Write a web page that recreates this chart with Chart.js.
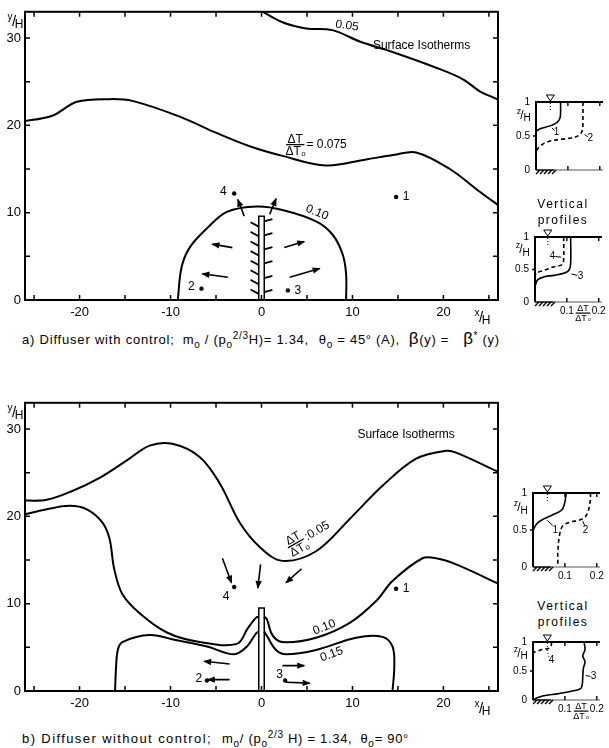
<!DOCTYPE html>
<html>
<head>
<meta charset="utf-8">
<script src="https://cdn.jsdelivr.net/npm/chart.js@4.4.1/dist/chart.umd.min.js"></script>
<style>
  body { margin: 0; background: #fff; width: 609px; height: 748px; position: relative; overflow: hidden;
         font-family: 'Liberation Sans', 'DejaVu Sans', sans-serif; color: #000; }
  canvas { position: absolute; }
  .cap { position: absolute; font-size: 13px; white-space: nowrap; line-height: 16px; }
  .cap > span { display: inline-block; letter-spacing: 0.8px; }
  .cap > span.f { letter-spacing: 0.7px; }
  .cap sub, .cap sup { font-size: 10px; line-height: 0; }
  .big { font-size: 17px; line-height: 0; }
  .vp { position: absolute; width: 90px; text-align: center; font-size: 12px; letter-spacing: 1.5px; line-height: 16px; }
</style>
</head>
<body>
<canvas id="mainA" width="505" height="325" style="left:0;top:0"></canvas>
<canvas id="profA1" width="104" height="97" style="left:505px;top:88px"></canvas>
<canvas id="profA2" width="104" height="100" style="left:505px;top:225px"></canvas>
<div class="vp" style="left:518px;top:196px">Vertical<br>profiles</div>
<div class="cap" style="left:22px;top:332px"><span style="margin-right:8px">a) Diffuser with control;</span><span class="f" style="margin-right:10px">m<sub>o</sub> / (p<sub>o</sub><sup>2/3</sup>H)= 1.34,</span><span class="f" style="margin-right:9px">&theta;<sub>o</sub> = 45&deg; (A),</span><span class="f" style="margin-right:14px"><span class="big">&beta;</span>(y) =</span><span class="f"><span class="big">&beta;</span><sup>*</sup> (y)</span></div>

<canvas id="mainB" width="505" height="325" style="left:0;top:391px"></canvas>
<canvas id="profB1" width="104" height="102" style="left:505px;top:480px"></canvas>
<canvas id="profB2" width="104" height="118" style="left:505px;top:630px"></canvas>
<div class="vp" style="left:518px;top:598px">Vertical<br>profiles</div>
<div class="cap" style="left:22px;top:731px"><span style="letter-spacing:1.4px;margin-right:10px">b) Diffuser without control;</span><span class="f" style="margin-right:8px">m<sub>o</sub>/ (p<sub>o</sub><sup>2/3</sup> H) = 1.34,</span><span class="f">&theta;<sub>o</sub>= 90&deg;</span></div>

<script>
'use strict';

var FONT = "'Liberation Sans', 'DejaVu Sans', sans-serif";

//
// axes
//
var xTickLabels = [-20, -10, 0, 10, 20];
var yTickLabels = [0, 10, 20, 30];
var xMinorTicks = [-25, -20, -15, -10, -5, 0, 5, 10, 15, 20, 25];
var yMinorTicks = [0, 5, 10, 15, 20, 25, 30];
var profXTicks = [0.1, 0.2];
var profYTicks = [0, 0.5, 1];

//
// a) diffuser with control - surface isotherms
//
var a05X = [-0.2, 2.3, 4.9, 7.8, 10.8, 14.4, 19.2, 22.1, 24, 25.9, 27];
var a05Y = [33.2, 31.8, 31.1, 30.9, 29.6, 28.4, 26.6, 25.3, 23.9, 23.0, 22.4];
var a075X = [-26.5, -23, -20.3, -16.7, -14.2, -9, -4.9, -1.3, 2.3, 7.1, 11.5, 14.5, 17, 20.7, 24, 26.5];
var a075Y = [20.4, 21.1, 22.7, 23.0, 22.8, 21, 19.1, 17.6, 16.5, 15.4, 16.1, 16.6, 16.9, 15.0, 12.4, 10.5];
var a10X = [-9.2, -8.8, -7.9, -6, -3.8, -0.5, 2.3, 6, 7.8, 8.9, 9.3, 9.3];
var a10Y = [0, 3.7, 6, 8.2, 10.1, 10.7, 10.3, 9, 7.5, 5.3, 3, 0];

var aStationX = [14.8, -6.6, 2.9, -3.0];
var aStationY = [11.8, 1.3, 1.1, 12.2];
var aArrowFrom = [[-1.9, 9.6], [0.9, 9.8], [-3.2, 6.0], [-3.7, 2.6], [2.5, 6.0], [3.1, 2.6]];
var aArrowTo = [[-2.6, 11.5], [1.6, 11.6], [-5.4, 6.4], [-6.5, 3.0], [4.7, 6.7], [6.4, 3.6]];
var aBarbLeftY = [0.7, 1.8, 2.9, 4.0, 5.1, 6.2, 7.3, 8.4];
var aBarbRightY = [0.9, 2.5, 4.2, 5.8, 7.4, 9.0];

//
// b) diffuser without control - surface isotherms
//
var b05X = [-26.5, -23.6, -20.8, -17.8, -14.8, -12.3, -9.8, -6.8, -4.6, -2.4, -0.2, 2.3, 6, 9.7, 13.3, 17, 20.3, 21.4, 25.8, 26.5];
var b05Y = [21.8, 21.9, 22.9, 24.4, 26.4, 28.1, 28.3, 26.8, 23.8, 19.3, 16.5, 14.9, 16, 19.7, 23.5, 26.6, 27.5, 27.3, 25.2, 24.8];
var b10LX = [-26.5, -23.6, -21.1, -19.2, -17.5, -16.7, -16.2, -15.3, -13.4, -10.4, -6.8, -2.7, -1.5, -0.6, -0.3];
var b10LY = [20.1, 20.8, 21.2, 20.8, 19.3, 17.4, 14.0, 11.1, 8.9, 6.7, 5.6, 5.4, 7.2, 8.4, 8.5];
var b10RX = [0.3, 0.6, 1.2, 2.3, 6, 9.7, 12.6, 14.4, 17.7, 19.2, 21.4, 25.8, 26.5];
var b10RY = [8.5, 8.2, 6.4, 5.6, 6.1, 7.8, 10.3, 12.6, 15.2, 15.2, 14.5, 12.4, 12.0];
var b15LX = [-16.1, -16.0, -15.8, -15.3, -12.3, -9.3, -6.0, -3.0, -1.6, -0.6, -0.3];
var b15LY = [0, 2.5, 4.7, 5.6, 6.4, 5.8, 5.1, 4.2, 5.1, 6.6, 6.8];
var b15RX = [0.3, 0.6, 1.6, 2.7, 6, 10.4, 13.3, 14.4, 14.6, 14.4];
var b15RY = [6.8, 6.3, 4.7, 4.2, 4.7, 6.1, 6.2, 5.1, 2.8, 0];

var bStationX = [14.8, -6.0, 2.6, -3.0];
var bStationY = [11.7, 1.2, 1.2, 11.9];
var bArrowFrom = [[-4.3, 15.2], [-0.1, 14.5], [4.4, 14.0], [-3.5, 3.1], [-3.5, 1.3], [2.3, 2.9], [2.7, 1.0]];
var bArrowTo = [[-3.3, 12.4], [-0.4, 11.8], [2.7, 12.4], [-6.3, 3.4], [-5.9, 1.3], [4.7, 2.9], [5.3, 0.9]];

var pipeX = [-0.3, 0.3];
var pipeTop = [9.6, 9.5];
var stationNames = ['1', '2', '3', '4'];

//
// vertical profiles: dT/dTo vs z/H
//
var pa1X = [0.077, 0.077, 0.075, 0.066, 0.05, 0.03, 0.01, 0];
var pa1Y = [1, 0.84, 0.76, 0.7, 0.66, 0.63, 0.6, 0.57];
var pa2X = [0.147, 0.147, 0.145, 0.135, 0.11, 0.077, 0.04, 0.015, 0];
var pa2Y = [1, 0.7, 0.58, 0.51, 0.47, 0.45, 0.42, 0.36, 0.28];
var pa3X = [0.112, 0.112, 0.108, 0.095, 0.06, 0.03, 0.008, 0];
var pa3Y = [1, 0.6, 0.5, 0.45, 0.41, 0.39, 0.34, 0.24];
var pa4X = [0.09, 0.09, 0.086, 0.058, 0.03, 0.006, 0];
var pa4Y = [1, 0.68, 0.58, 0.54, 0.49, 0.45, 0.41];

var pb1X = [0.104, 0.102, 0.099, 0.09, 0.059, 0.034, 0.013, 0.003, 0];
var pb1Y = [1, 0.93, 0.86, 0.77, 0.7, 0.65, 0.59, 0.52, 0.47];
var pb2X = [0.18, 0.18, 0.174, 0.164, 0.144, 0.119, 0.094, 0.084, 0.078, 0.078];
var pb2Y = [1, 0.92, 0.77, 0.68, 0.63, 0.61, 0.56, 0.45, 0.22, 0.03];
var pb3X = [0.16, 0.163, 0.156, 0.163, 0.158, 0.156, 0.155, 0.15, 0.12, 0.08, 0.03, 0.01, 0];
var pb3Y = [1, 0.87, 0.76, 0.66, 0.55, 0.4, 0.3, 0.2, 0.15, 0.11, 0.07, 0.03, 0];
var pb4X = [0.058, 0.058, 0.053, 0.028, 0.013, 0.003, 0];
var pb4Y = [1.0, 0.97, 0.9, 0.87, 0.84, 0.82, 0.8];

function pts(xs, ys) {
  return xs.map(function(x, i) { return { x: x, y: ys[i] }; });
}

function curve(xs, ys, extra) {
  return Object.assign({
    data: pts(xs, ys), showLine: true, borderColor: '#000', borderWidth: 2,
    pointRadius: 0, fill: false, tension: 0.35
  }, extra || {});
}

function seg(from, to, extra) {
  return Object.assign({
    data: [{ x: from[0], y: from[1] }, { x: to[0], y: to[1] }],
    showLine: true, borderColor: '#000', borderWidth: 1.6, pointRadius: 0, tension: 0
  }, extra || {});
}

function arrows(from, to) {
  return from.map(function(f, i) { return seg(f, to[i], { arrow: true }); });
}

function stations(xs, ys) {
  return { data: pts(xs, ys), showLine: false, pointRadius: 2.2, pointBackgroundColor: '#000', pointBorderWidth: 0 };
}

function pipe(top) {
  return {
    data: [{ x: pipeX[0], y: 0 }, { x: pipeX[0], y: top }, { x: pipeX[1], y: top }, { x: pipeX[1], y: 0 }],
    showLine: true, borderColor: '#000', borderWidth: 1.5, pointRadius: 0, tension: 0
  };
}

function barbs(ys, side) {
  var data = [];
  ys.forEach(function(y) {
    var x0 = side < 0 ? pipeX[0] : pipeX[1];
    data.push({ x: x0, y: y }, { x: x0 + side * 0.9, y: y + (side < 0 ? 0.5 : 0.25) }, { x: null, y: null });
  });
  return { data: data, showLine: true, spanGaps: false, borderColor: '#000', borderWidth: 1.8, pointRadius: 0, tension: 0 };
}

function drawText(ctx, t, px, py, rot, size, align) {
  ctx.save();
  ctx.translate(px, py);
  ctx.rotate((rot || 0) * Math.PI / 180);
  ctx.font = (size || 12) + 'px ' + FONT;
  ctx.textAlign = align || 'center';
  ctx.textBaseline = 'middle';
  ctx.fillText(t, 0, 0);
  ctx.restore();
}

function drawFrac(ctx, px, py, rot, suffix, size) {
  ctx.save();
  ctx.translate(px, py);
  ctx.rotate((rot || 0) * Math.PI / 180);
  ctx.font = size + 'px ' + FONT;
  var w = ctx.measureText('\u0394T').width + 3;
  ctx.textAlign = 'center';
  ctx.textBaseline = 'alphabetic';
  ctx.fillText('\u0394T', w / 2, -2);
  ctx.textBaseline = 'top';
  ctx.fillText('\u0394T', w / 2 - 2, 1);
  ctx.font = (size - 4) + 'px ' + FONT;
  ctx.fillText('o', w - 1, size * 0.45);
  ctx.fillRect(0, -0.5, w, 1.2);
  if (suffix) {
    ctx.font = size + 'px ' + FONT;
    ctx.textAlign = 'left';
    ctx.textBaseline = 'middle';
    ctx.fillText(suffix, w + 2, 0);
  }
  ctx.restore();
}

function drawOverH(ctx, letter, px, py) {
  ctx.save();
  ctx.textAlign = 'center';
  ctx.textBaseline = 'middle';
  ctx.font = '10px ' + FONT;
  ctx.fillText(letter, px - 4, py - 5);
  ctx.font = '15px ' + FONT;
  ctx.fillText('/', px, py);
  ctx.font = '12px ' + FONT;
  ctx.fillText('H', px + 5, py + 3);
  ctx.restore();
}

var mainDecor = {
  id: 'mainDecor',
  afterDatasetsDraw: function(chart, args, o) {
    var ctx = chart.ctx, a = chart.chartArea, sx = chart.scales.x, sy = chart.scales.y;
    ctx.save();
    ctx.strokeStyle = '#000';
    ctx.fillStyle = '#000';
    ctx.lineWidth = 2;
    ctx.strokeRect(a.left, a.top, a.right - a.left, a.bottom - a.top);
    ctx.lineWidth = 1.5;
    ctx.beginPath();
    xMinorTicks.forEach(function(v) {
      var p = sx.getPixelForValue(v);
      ctx.moveTo(p, a.top); ctx.lineTo(p, a.top + 5);
      ctx.moveTo(p, a.bottom); ctx.lineTo(p, a.bottom - 5);
    });
    yMinorTicks.forEach(function(v) {
      var p = sy.getPixelForValue(v);
      ctx.moveTo(a.left, p); ctx.lineTo(a.left + 5, p);
      ctx.moveTo(a.right, p); ctx.lineTo(a.right - 5, p);
    });
    ctx.stroke();

    // arrow heads at the end of flow arrows
    chart.data.datasets.forEach(function(ds, i) {
      if (!ds.arrow) return;
      var d = chart.getDatasetMeta(i).data;
      var p1 = d[d.length - 2], p2 = d[d.length - 1];
      var ang = Math.atan2(p2.y - p1.y, p2.x - p1.x);
      ctx.save();
      ctx.translate(p2.x, p2.y);
      ctx.rotate(ang);
      ctx.beginPath();
      ctx.moveTo(1, 0); ctx.lineTo(-7, -3.2); ctx.lineTo(-7, 3.2); ctx.closePath();
      ctx.fill();
      ctx.restore();
    });

    (o.texts || []).forEach(function(t) {
      var px = sx.getPixelForValue(t.x), py = sy.getPixelForValue(t.y);
      if (t.frac) drawFrac(ctx, px, py, t.rot, t.t, 12);
      else drawText(ctx, t.t, px, py, t.rot, t.size || 12, t.align);
    });

    drawOverH(ctx, 'y', a.left - 11, a.top + 10);
    drawOverH(ctx, 'x', a.right - 17, a.bottom + 18);
    ctx.restore();
  }
};

var profDecor = {
  id: 'profDecor',
  afterDatasetsDraw: function(chart, args, o) {
    var ctx = chart.ctx, a = chart.chartArea, sx = chart.scales.x, sy = chart.scales.y;
    ctx.save();
    ctx.strokeStyle = '#000';
    ctx.fillStyle = '#000';
    ctx.lineWidth = 2;
    ctx.beginPath();
    ctx.moveTo(a.left, a.bottom); ctx.lineTo(a.left, a.top); ctx.lineTo(a.right, a.top);
    ctx.stroke();
    ctx.lineWidth = 1;
    ctx.strokeStyle = '#555';
    ctx.beginPath();
    ctx.moveTo(a.left + 18, a.bottom); ctx.lineTo(a.right, a.bottom);
    ctx.stroke();
    ctx.strokeStyle = '#000';
    ctx.lineWidth = 1.4;
    ctx.beginPath();
    profXTicks.forEach(function(v) {
      var p = sx.getPixelForValue(v);
      ctx.moveTo(p, a.top); ctx.lineTo(p, a.top + 4);
      ctx.moveTo(p, a.bottom); ctx.lineTo(p, a.bottom - 4);
    });
    var h = sy.getPixelForValue(0.5);
    ctx.moveTo(a.left - 3, h); ctx.lineTo(a.left, h);
    // ground hatching
    for (var i = 0; i < 5; i++) {
      var x0 = a.left + i * 4;
      ctx.moveTo(x0, a.bottom + 4); ctx.lineTo(x0 + 4, a.bottom);
    }
    ctx.moveTo(a.left, a.bottom); ctx.lineTo(a.left + 18, a.bottom);
    ctx.stroke();

    // water surface mark
    var wx = sx.getPixelForValue(o.water);
    ctx.lineWidth = 1;
    ctx.beginPath();
    ctx.moveTo(wx - 4, a.top - 7); ctx.lineTo(wx + 4, a.top - 7); ctx.lineTo(wx, a.top - 1); ctx.closePath();
    ctx.stroke();
    ctx.setLineDash([1, 2]);
    ctx.beginPath();
    ctx.moveTo(wx, a.top + 1); ctx.lineTo(wx, a.top + 8);
    ctx.stroke();
    ctx.setLineDash([]);

    // z/H
    ctx.save();
    ctx.textAlign = 'center';
    ctx.textBaseline = 'middle';
    var zy = sy.getPixelForValue(0.8), zx = a.left - 14;
    ctx.font = '9px ' + FONT; ctx.fillText('z', zx - 3, zy - 4);
    ctx.font = '12px ' + FONT; ctx.fillText('/', zx, zy);
    ctx.font = '10px ' + FONT; ctx.fillText('H', zx + 5, zy + 3);
    ctx.restore();

    (o.texts || []).forEach(function(t) {
      drawText(ctx, t.t, sx.getPixelForValue(t.x), sy.getPixelForValue(t.y), 0, 10, 'center');
    });
    if (o.frac) drawFrac(ctx, sx.getPixelForValue(0.15) - 7, a.bottom + 11, 0, '', 9);
    ctx.restore();
  }
};

function mainChart(id, datasets, texts) {
  return new Chart(document.getElementById(id), {
    type: 'scatter',
    data: { datasets: datasets },
    options: {
      responsive: false, animation: false, events: [],
      layout: { padding: { left: 0, right: 7, top: 7, bottom: 0 } },
      plugins: { legend: { display: false }, tooltip: { enabled: false }, mainDecor: { texts: texts } },
      scales: {
        x: {
          type: 'linear', min: -26, max: 26,
          afterBuildTicks: function(s) { s.ticks = xTickLabels.map(function(v) { return { value: v }; }); },
          afterFit: function(s) { s.height = 25; },
          grid: { display: false, drawTicks: false }, border: { display: false },
          ticks: { color: '#000', font: { size: 13, family: FONT }, padding: 5, maxRotation: 0, autoSkip: false }
        },
        y: {
          type: 'linear', min: 0, max: 33,
          afterBuildTicks: function(s) { s.ticks = yTickLabels.map(function(v) { return { value: v }; }); },
          afterFit: function(s) { s.width = 25; },
          grid: { display: false, drawTicks: false }, border: { display: false },
          ticks: { color: '#000', font: { size: 13, family: FONT }, padding: 4, autoSkip: false }
        }
      }
    },
    plugins: [mainDecor]
  });
}

function profChart(id, box, datasets, opts) {
  return new Chart(document.getElementById(id), {
    type: 'scatter',
    data: { datasets: datasets },
    options: {
      responsive: false, animation: false, events: [],
      layout: { padding: { left: 0, right: box.right, top: box.top, bottom: 0 } },
      plugins: { legend: { display: false }, tooltip: { enabled: false }, profDecor: opts },
      scales: {
        x: {
          type: 'linear', min: 0, max: 0.21,
          afterBuildTicks: function(s) { s.ticks = profXTicks.map(function(v) { return { value: v }; }); },
          afterFit: function(s) { s.height = box.bottom; },
          grid: { display: false, drawTicks: false }, border: { display: false },
          ticks: { color: '#000', font: { size: 10, family: FONT }, padding: 3, maxRotation: 0, autoSkip: false,
                   callback: function(v) { return opts.xLabels ? v.toFixed(1) : ''; } }
        },
        y: {
          type: 'linear', min: 0, max: 1,
          afterBuildTicks: function(s) { s.ticks = profYTicks.map(function(v) { return { value: v }; }); },
          afterFit: function(s) { s.width = box.left; },
          grid: { display: false, drawTicks: false }, border: { display: false },
          ticks: { color: '#000', font: { size: 10, family: FONT }, padding: 6, autoSkip: false,
                   callback: function(v) { return String(v); } }
        }
      }
    },
    plugins: [profDecor]
  });
}

var DASH = { borderDash: [4, 3], borderWidth: 1.6 };
var THIN = { borderWidth: 1.6 };

mainChart('mainA',
  [curve(a05X, a05Y), curve(a075X, a075Y), curve(a10X, a10Y), pipe(pipeTop[0]),
   barbs(aBarbLeftY, -1), barbs(aBarbRightY, 1), stations(aStationX, aStationY)]
    .concat(arrows(aArrowFrom, aArrowTo)),
  [
    { t: '0.05', x: 9.4, y: 31.4, rot: 8 },
    { t: 'Surface Isotherms', x: 17.6, y: 29.1 },
    { t: '= 0.075', x: 2.7, y: 17.8, frac: true },
    { t: '0.10', x: 6.1, y: 10.0, rot: 22 },
    { t: stationNames[0], x: aStationX[0] + 1.1, y: aStationY[0] },
    { t: stationNames[1], x: aStationX[1] - 1.1, y: aStationY[1] + 0.2 },
    { t: stationNames[2], x: aStationX[2] + 1.1, y: aStationY[2] },
    { t: stationNames[3], x: aStationX[3] - 1.2, y: aStationY[3] + 0.2 }
  ]);

mainChart('mainB',
  [curve(b05X, b05Y), curve(b10LX, b10LY), curve(b10RX, b10RY), curve(b15LX, b15LY), curve(b15RX, b15RY),
   pipe(pipeTop[1]), stations(bStationX, bStationY)]
    .concat(arrows(bArrowFrom, bArrowTo)),
  [
    { t: 'Surface Isotherms', x: 15.9, y: 29.4 },
    { t: ':0.05', x: 2.9, y: 16.4, rot: -30, frac: true },
    { t: '0.10', x: 6.9, y: 7.3, rot: -22 },
    { t: '0.15', x: 7.7, y: 4.2, rot: -20 },
    { t: stationNames[0], x: bStationX[0] + 1.1, y: bStationY[0] },
    { t: stationNames[1], x: bStationX[1] - 0.9, y: bStationY[1] + 0.2 },
    { t: stationNames[2], x: bStationX[2] - 0.6, y: bStationY[2] + 0.7 },
    { t: stationNames[3], x: bStationX[3] - 0.9, y: bStationY[3] - 1.1 }
  ]);

profChart('profA1', { left: 31, right: 6, top: 14, bottom: 15 },
  [curve(pa1X, pa1Y, THIN), curve(pa2X, pa2Y, DASH),
   seg([0.05, 0.62], [0.058, 0.58], { borderWidth: 1 }), seg([0.152, 0.52], [0.162, 0.49], { borderWidth: 1 })],
  { water: 0.045, xLabels: false, texts: [{ t: '1', x: 0.064, y: 0.55 }, { t: '2', x: 0.17, y: 0.47 }] });

profChart('profA2', { left: 30, right: 7, top: 12, bottom: 23 },
  [curve(pa3X, pa3Y, THIN), curve(pa4X, pa4Y, DASH),
   seg([0.115, 0.43], [0.133, 0.41], { borderWidth: 1 }), seg([0.064, 0.7], [0.082, 0.69], { borderWidth: 1 })],
  { water: 0.04, xLabels: true, frac: true, texts: [{ t: '3', x: 0.143, y: 0.4 }, { t: '4', x: 0.055, y: 0.7 }] });

profChart('profB1', { left: 28, right: 9, top: 13, bottom: 15 },
  [curve(pb1X, pb1Y, THIN), curve(pb2X, pb2Y, DASH),
   seg([0.045, 0.63], [0.062, 0.56], { borderWidth: 1 }), seg([0.156, 0.62], [0.162, 0.56], { borderWidth: 1 })],
  { water: 0.045, xLabels: true, texts: [{ t: '1', x: 0.07, y: 0.5 }, { t: '2', x: 0.165, y: 0.5 }] });

profChart('profB2', { left: 28, right: 9, top: 11, bottom: 48 },
  [curve(pb3X, pb3Y, THIN), curve(pb4X, pb4Y, DASH),
   seg([0.165, 0.42], [0.18, 0.41], { borderWidth: 1 }), seg([0.044, 0.86], [0.05, 0.74], { borderWidth: 1, borderDash: [1, 2] })],
  { water: 0.045, xLabels: true, frac: true, texts: [{ t: '3', x: 0.19, y: 0.41 }, { t: '4', x: 0.058, y: 0.68 }] });
</script>
</body>
</html>
